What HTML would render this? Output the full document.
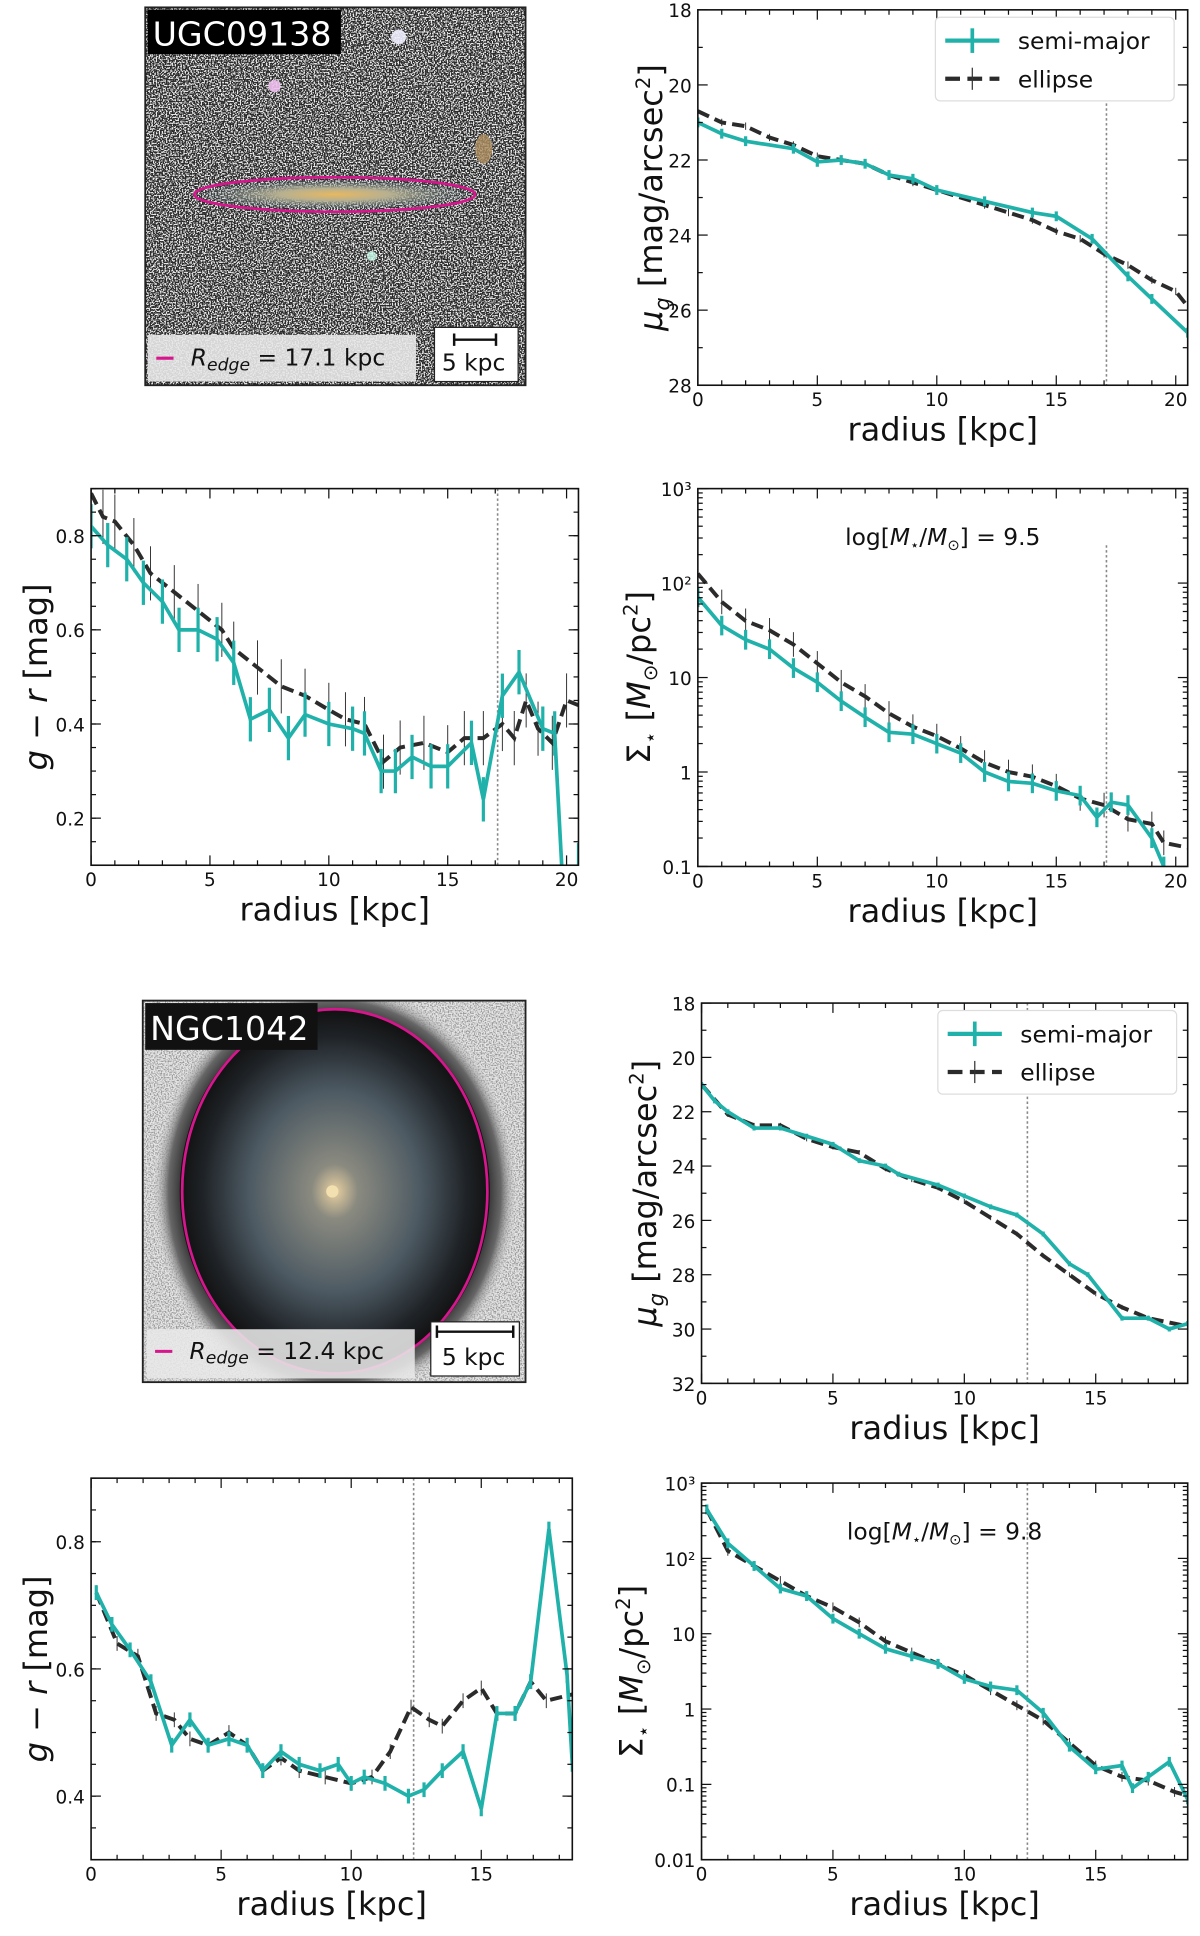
<!DOCTYPE html>
<html><head><meta charset="utf-8"><style>
html,body{margin:0;padding:0;background:#fff}
svg{display:block}
text{font-family:"DejaVu Sans","Liberation Sans",sans-serif}
</style></head><body>
<svg id="fig" xmlns="http://www.w3.org/2000/svg" width="1200" height="1936" viewBox="0 0 975 1573">
<defs>
<filter id="noise1" x="0" y="0" width="100%" height="100%">
<feTurbulence type="fractalNoise" baseFrequency="0.9" numOctaves="1" seed="3"/>
<feColorMatrix type="matrix" values="0 0 0 0 0  0 0 0 0 0  0 0 0 0 0  0 0 0 -4 2.3"/>
</filter>
<filter id="noiseW" x="0" y="0" width="100%" height="100%">
<feTurbulence type="fractalNoise" baseFrequency="0.85" numOctaves="1" seed="7"/>
<feColorMatrix type="matrix" values="0 0 0 0 1  0 0 0 0 1  0 0 0 0 1  0 0 0 9 -4.3"/>
</filter>
<clipPath id="img2clip"><rect x="116" y="813" width="311" height="310"/></clipPath>
<radialGradient id="gal1" cx="50%" cy="50%" r="50%">
<stop offset="0" stop-color="#e8b860"/><stop offset="0.4" stop-color="#b7b090"/><stop offset="1" stop-color="#7d95a0" stop-opacity="0"/>
</radialGradient>
<radialGradient id="gal2" cx="50%" cy="50%" r="50%">
<stop offset="0" stop-color="#e8d0a0"/><stop offset="0.15" stop-color="#8a8a80"/><stop offset="0.55" stop-color="#4d5a63"/><stop offset="0.85" stop-color="#1f2327"/><stop offset="1" stop-color="#111"/>
</radialGradient>
<radialGradient id="halo2" cx="50%" cy="50%" r="50%">
<stop offset="0.78" stop-color="#111"/><stop offset="0.9" stop-color="#666"/><stop offset="1" stop-color="#e8e8e8" stop-opacity="0"/>
</radialGradient>
</defs>

<!-- Image panel 1 -->
<g>
<rect x="118" y="6" width="309" height="307" fill="#2a2a2a"/>
<rect x="118" y="6" width="309" height="307" fill="#fff" filter="url(#noiseW)" opacity="0.9"/>
<ellipse cx="272" cy="158" rx="112" ry="12" fill="url(#gal1)"/>
<circle cx="324" cy="30" r="6" fill="#eef" opacity="0.9"/>
<circle cx="223" cy="70" r="5" fill="#f0c0f0" opacity="0.9"/>
<ellipse cx="393" cy="121" rx="7" ry="12" fill="#b09060" opacity="0.8"/>
<circle cx="302" cy="208" r="4" fill="#cfe" opacity="0.8"/>
<ellipse cx="272" cy="158" rx="114" ry="14" fill="none" stroke="#d6168c" stroke-width="2.2"/>
<rect x="118" y="6" width="309" height="307" fill="none" stroke="#222" stroke-width="1.5"/>
<rect x="120" y="8" width="157" height="36" fill="#000"/>
<text x="124" y="37" font-size="27" fill="#fff">UGC09138</text>
<rect x="120" y="272" width="218" height="38" fill="#e8e8e8" opacity="0.9"/>
<line x1="127" y1="291" x2="141" y2="291" stroke="#d6168c" stroke-width="2.5"/>
<text x="155" y="297" font-size="19" fill="#111"><tspan font-style="italic">R</tspan><tspan font-style="italic" font-size="14" dy="4">edge</tspan><tspan dy="-4"> = 17.1 kpc</tspan></text>
<rect x="353" y="266" width="68" height="44" fill="#fff" stroke="#222" stroke-width="1"/>
<path d="M369 271V281M403 271V281M369 276H403" stroke="#111" stroke-width="2" fill="none"/>
<text x="359" y="301" font-size="19" fill="#111">5 kpc</text>
</g>

<!-- Image panel 2 -->
<g>
<g clip-path="url(#img2clip)">
<rect x="116" y="813" width="311" height="310" fill="#e6e6e6"/>
<rect x="116" y="813" width="311" height="310" fill="#000" filter="url(#noise1)" opacity="0.35"/>
<ellipse cx="272" cy="968" rx="150" ry="172" fill="url(#halo2)"/>
<ellipse cx="272" cy="968" rx="126" ry="148" fill="url(#gal2)"/>
<circle cx="270" cy="968" r="5" fill="#f3e0b0"/>
</g>
<ellipse cx="272" cy="968" rx="124" ry="148" fill="none" stroke="#d6168c" stroke-width="2.2"/>
<rect x="116" y="813" width="311" height="310" fill="none" stroke="#222" stroke-width="1.5"/>
<rect x="118" y="815" width="140" height="38" fill="#111"/>
<text x="122" y="845" font-size="27" fill="#fff">NGC1042</text>
<rect x="119" y="1080" width="218" height="40" fill="#e8e8e8" opacity="0.88"/>
<line x1="126" y1="1098" x2="140" y2="1098" stroke="#d6168c" stroke-width="2.5"/>
<text x="154" y="1104" font-size="19" fill="#111"><tspan font-style="italic">R</tspan><tspan font-style="italic" font-size="14" dy="4">edge</tspan><tspan dy="-4"> = 12.4 kpc</tspan></text>
<rect x="350" y="1074" width="72" height="44" fill="#fff" stroke="#222" stroke-width="1"/>
<path d="M355 1077V1087M417 1077V1087M355 1082H417" stroke="#111" stroke-width="2" fill="none"/>
<text x="359" y="1109" font-size="19" fill="#111">5 kpc</text>
</g>
<g id="plots"></g>
</svg>
<script>
// ---- data ----
const p2SemiR=[0,1,2,4,5,6,7,8,9,10,12,14,15,16.5,18,19,20.5];
const p2SemiV=[21.0,21.3,21.5,21.7,22.05,22.0,22.1,22.4,22.5,22.8,23.1,23.4,23.5,24.1,25.1,25.7,26.6];
const p2EllR=[0,1,2,3,4,5,6,7,8,9,10,12,13,14,15,16,17,18,19,20,20.5];
const p2EllV=[20.7,21.0,21.1,21.4,21.6,21.9,22.0,22.1,22.4,22.6,22.8,23.2,23.4,23.6,23.9,24.1,24.5,24.8,25.2,25.5,25.9];

const p3SemiR=[0,0.7,1.5,2.2,3,3.7,4.5,5.3,6,6.7,7.5,8.3,9,10,11,11.5,12.2,12.8,13.5,14.3,15,16,16.5,17.3,18,19,19.5,19.9,20.5];
const p3SemiV=[0.82,0.78,0.75,0.70,0.66,0.60,0.60,0.58,0.53,0.41,0.43,0.37,0.42,0.40,0.39,0.38,0.30,0.30,0.33,0.31,0.31,0.36,0.24,0.46,0.51,0.39,0.38,0.0,0.1];
const p3EllR=[0,0.5,1,1.8,2.5,3.5,4.5,5.5,6,7,8,9,10,10.7,11.5,12.3,13,14,15,15.7,16.5,17.3,17.8,18.3,18.8,19.4,20,20.5];
const p3EllV=[0.89,0.84,0.83,0.78,0.72,0.68,0.64,0.60,0.56,0.52,0.48,0.46,0.43,0.41,0.40,0.32,0.35,0.36,0.34,0.37,0.37,0.40,0.37,0.45,0.39,0.36,0.45,0.44];

const p4SemiR=[0,1,2,3,4,5,6,7,8,9,10,11,12,13,14,15,16,16.7,17.3,18,19,19.5];
const p4SemiLog=[1.85,1.55,1.4,1.3,1.1,0.95,0.75,0.58,0.42,0.40,0.3,0.2,0.0,-0.1,-0.12,-0.2,-0.25,-0.48,-0.32,-0.35,-0.7,-1.0];
const p4EllR=[0,1,2,3,4,5,6,7,8,9,10,11,12,13,14,15,16,17,18,19,19.5,20.5];
const p4EllLog=[2.1,1.8,1.6,1.5,1.35,1.15,0.95,0.8,0.62,0.48,0.38,0.25,0.1,0.0,-0.05,-0.15,-0.28,-0.35,-0.5,-0.55,-0.75,-0.8];

const p6SemiR=[0,0.5,1,2,3,4,5,6,7,7.5,9,10,11,12,13,14,14.7,16,17,17.8,18.5];
const p6SemiV=[21.0,21.6,22.0,22.6,22.6,22.9,23.2,23.8,24.0,24.3,24.7,25.1,25.5,25.8,26.5,27.6,28.0,29.6,29.6,30.0,29.8];
const p6EllR=[0,1,2,3,4,5,6,7,8,9,10,11,12,13,14,15,16,17,18.5];
const p6EllV=[21.0,22.1,22.5,22.5,23.0,23.3,23.5,24.1,24.5,24.8,25.3,25.9,26.5,27.3,28.0,28.7,29.2,29.6,29.9];

const p7SemiR=[0.2,0.8,1.5,2.3,3.1,3.8,4.5,5.3,6,6.6,7.3,8,8.8,9.5,10,10.5,11.3,12.2,12.8,13.5,14.3,15,15.6,16.3,16.9,17.6,18.3,18.5];
const p7SemiV=[0.72,0.67,0.63,0.58,0.48,0.52,0.48,0.49,0.48,0.44,0.47,0.45,0.44,0.45,0.42,0.43,0.42,0.40,0.41,0.44,0.47,0.38,0.53,0.53,0.58,0.82,0.59,0.45];
const p7EllR=[0.2,1,1.8,2.5,3.2,3.8,4.5,5.3,6,6.6,7.3,8,9,10,10.8,11.5,12.3,13,13.5,14.3,15,15.6,16.3,16.9,17.5,18.5];
const p7EllV=[0.72,0.64,0.62,0.53,0.52,0.49,0.48,0.50,0.48,0.44,0.46,0.44,0.43,0.42,0.43,0.47,0.54,0.52,0.51,0.55,0.57,0.53,0.53,0.58,0.55,0.56];

const p8SemiR=[0.2,1,2,3,4,5,6,7,8,9,10,11,12,13,14,15,16,16.4,17,17.8,18.5];
const p8SemiLog=[2.65,2.2,1.9,1.6,1.5,1.2,1.0,0.8,0.7,0.6,0.4,0.3,0.25,-0.05,-0.5,-0.8,-0.75,-1.05,-0.9,-0.7,-1.2];
const p8EllR=[0.2,1,2,3,4,5,6,7,8,9,10,11,12,13,14,15,16,17,18,18.5];
const p8EllLog=[2.65,2.1,1.9,1.7,1.5,1.35,1.15,0.9,0.75,0.6,0.45,0.25,0.05,-0.15,-0.45,-0.75,-0.9,-0.95,-1.1,-1.15];

const xTicks1=[0,5,10,15,20];
const xTicks2=[0,5,10,15];
const muTicks1=[18,20,22,24,26,28];
const muTicks2=[18,20,22,24,26,28,30,32];
const grTicks1=[0.2,0.4,0.6,0.8];
const grTicks2=[0.4,0.6,0.8];
const sigTickLog1=[-1,0,1,2,3];
const sigTickLog2=[-2,-1,0,1,2,3];
const sigTickLabels={"-2":"0.01","-1":"0.1","0":"1","1":"10","2":"10²","3":"10³"};
const redge1=17.1, redge2=12.4;
const logMass1="9.5", logMass2="9.8";

// ---- drawing ----
const NS="http://www.w3.org/2000/svg";
const root=document.getElementById('plots');
const TEAL="#20b2aa", DARK="#2b2b2b";
function mk(tag,attrs,parent){const e=document.createElementNS(NS,tag);for(const k in attrs)e.setAttribute(k,attrs[k]);(parent||root).appendChild(e);return e;}

function panel(o){
  const g=mk('g',{});
  
  
  const X=v=>o.x0+(v-o.xmin)/(o.xmax-o.xmin)*(o.x1-o.x0);
  const Y=v=>o.inv? o.y0+(v-o.ymin)/(o.ymax-o.ymin)*(o.y1-o.y0) : o.y1-(v-o.ymin)/(o.ymax-o.ymin)*(o.y1-o.y0);
  const clip='c'+o.name;
  const cp=mk('clipPath',{id:clip},g);mk('rect',{x:o.x0,y:o.y0,width:o.x1-o.x0,height:o.y1-o.y0},cp);
  const pg=mk('g',{'clip-path':`url(#${clip})`},g);
  const rl=mk('line',{x1:X(o.redge),x2:X(o.redge),y1:o.redgeTop||o.y0,y2:o.y1,stroke:'#888','stroke-width':1.3,'stroke-dasharray':'2,2'},pg);
  
  
  const pe=o.ell[0].map((r,i)=>[X(r),Y(o.ell[1][i])]);
  if(o.ellErr){pe.forEach(p=>{mk('line',{x1:p[0],x2:p[0],y1:p[1]-o.ellErr,y2:p[1]+o.ellErr,stroke:'#333','stroke-width':0.8},pg);});}
  const el=mk('polyline',{points:pe.map(p=>p.join(',')).join(' '),fill:'none',stroke:DARK,'stroke-width':3.2,'stroke-dasharray':'10,5'},pg);
  
  
  const ps=o.semi[0].map((r,i)=>[X(r),Y(o.semi[1][i])]);
  if(o.semiErr){ps.forEach(p=>{mk('line',{x1:p[0],x2:p[0],y1:p[1]-o.semiErr,y2:p[1]+o.semiErr,stroke:TEAL,'stroke-width':2.6},pg);});}
  const sl=mk('polyline',{points:ps.map(p=>p.join(',')).join(' '),fill:'none',stroke:TEAL,'stroke-width':3},pg);
  
  
  mk('rect',{x:o.x0,y:o.y0,width:o.x1-o.x0,height:o.y1-o.y0,fill:'none',stroke:'#111','stroke-width':1.3},g);
  for(let v=o.xmin;v<=o.xmax+1e-6;v+=1){const x=X(v);const major=Math.abs(v%5)<1e-6;const L=major?8:4;
    mk('line',{x1:x,x2:x,y1:o.y1,y2:o.y1-L,stroke:'#111','stroke-width':1},g);mk('line',{x1:x,x2:x,y1:o.y0,y2:o.y0+L,stroke:'#111','stroke-width':1},g);}
  o.xticks.forEach(v=>{const t=mk('text',{x:X(v),y:o.y1+17,'font-size':15,'text-anchor':'middle',fill:'#111'},g);t.textContent=v;
    
    });
  o.yticks.forEach(v=>{const y=Y(v);
    mk('line',{x1:o.x0,x2:o.x0+8,y1:y,y2:y,stroke:'#111','stroke-width':1},g);mk('line',{x1:o.x1,x2:o.x1-8,y1:y,y2:y,stroke:'#111','stroke-width':1},g);
    const t=mk('text',{x:o.x0-5,y:y+6,'font-size':15,'text-anchor':'end',fill:'#111'},g);t.textContent=o.fmt(v);
    
    });
  (o.minorY||[]).forEach(v=>{const y=Y(v);if(y<o.y0||y>o.y1)return;
    mk('line',{x1:o.x0,x2:o.x0+4,y1:y,y2:y,stroke:'#111','stroke-width':1},g);mk('line',{x1:o.x1,x2:o.x1-4,y1:y,y2:y,stroke:'#111','stroke-width':1},g);});
  const xl=mk('text',{x:(o.x0+o.x1)/2,y:o.y1+45,'font-size':26,'text-anchor':'middle',fill:'#111'},g);xl.textContent='radius [kpc]';
  
  
  const yl=mk('text',{x:0,y:0,'font-size':26,'text-anchor':'middle',fill:'#111',transform:`translate(${o.ylx},${(o.y0+o.y1)/2}) rotate(-90)`},g);
  yl.innerHTML=o.ylabel;
  
  
  if(o.mass){const t=mk('text',{x:(o.x0+o.x1)/2,y:o.y0+46,'font-size':19,'text-anchor':'middle',fill:'#111'},g);
    t.innerHTML=`log[<tspan font-style="italic">M</tspan><tspan font-size="12" dy="4">⋆</tspan><tspan dy="-4">/</tspan><tspan font-style="italic">M</tspan><tspan font-size="12" dy="4">⊙</tspan><tspan dy="-4">] = ${o.mass}</tspan>`;
    
    }
  if(o.legend){const lx=o.legend[0],ly=o.legend[1];const lg=mk('g',{},g);
    
    
    mk('rect',{x:lx,y:ly,width:194,height:68,rx:4,fill:'#fff',stroke:'#ddd'},lg);
    mk('line',{x1:lx+8,x2:lx+52,y1:ly+19,y2:ly+19,stroke:TEAL,'stroke-width':3.5},lg);
    mk('line',{x1:lx+30,x2:lx+30,y1:ly+9,y2:ly+29,stroke:TEAL,'stroke-width':3},lg);
    mk('line',{x1:lx+8,x2:lx+52,y1:ly+50,y2:ly+50,stroke:DARK,'stroke-width':3.5,'stroke-dasharray':'12,6'},lg);
    mk('line',{x1:lx+30,x2:lx+30,y1:ly+41,y2:ly+59,stroke:'#333','stroke-width':1},lg);
    const a=mk('text',{x:lx+67,y:ly+26,'font-size':19,fill:'#111'},lg);a.textContent='semi-major';
    const b=mk('text',{x:lx+67,y:ly+57,'font-size':19,fill:'#111'},lg);b.textContent='ellipse';}
}
const muLabel='<tspan font-style="italic">μ</tspan><tspan font-style="italic" font-size="17" dy="6">g</tspan><tspan dy="-6"> [mag/arcsec</tspan><tspan font-size="16" dy="-10">2</tspan><tspan dy="10">]</tspan>';
const grLabel='<tspan font-style="italic">g</tspan> − <tspan font-style="italic">r</tspan> [mag]';
const sigLabel='Σ<tspan font-size="16" dy="6">⋆</tspan><tspan dy="-6"> [</tspan><tspan font-style="italic">M</tspan><tspan font-size="16" dy="6">⊙</tspan><tspan dy="-6">/pc</tspan><tspan font-size="16" dy="-10">2</tspan><tspan dy="10">]</tspan>';
const minorLog=[];for(let d=-3;d<3;d++)for(let k=2;k<10;k++)minorLog.push(d+Math.log10(k));
const grMinor=[];for(let v=0.1;v<0.95;v+=0.05)grMinor.push(+v.toFixed(2));
const muMinor1=[19,21,23,25,27], muMinor2=[19,21,23,25,27,29,31];

panel({name:'mu-panel-1',x0:567,x1:965,y0:8,y1:313,xmin:0,xmax:20.5,ymin:18,ymax:28,inv:true,xticks:xTicks1,yticks:muTicks1,minorY:muMinor1,fmt:v=>v,
  semi:[p2SemiR,p2SemiV],ell:[p2EllR,p2EllV],semiErr:4,ellErr:3,redge:redge1,redgeTop:80,ylx:538,ylabel:muLabel,legend:[760,14]});
panel({name:'gr-panel-1',x0:74,x1:470,y0:397,y1:703,xmin:0,xmax:20.5,ymin:0.1,ymax:0.9,xticks:xTicks1,yticks:grTicks1,minorY:grMinor,fmt:v=>v.toFixed(1),
  semi:[p3SemiR,p3SemiV],ell:[p3EllR,p3EllV],semiErr:18,ellErr:22,redge:redge1,ylx:38,ylabel:grLabel});
panel({name:'sigma-panel-1',x0:567,x1:965,y0:397,y1:704,xmin:0,xmax:20.5,ymin:-1,ymax:3,xticks:xTicks1,yticks:sigTickLog1,minorY:minorLog,fmt:v=>sigTickLabels[v],
  semi:[p4SemiR,p4SemiLog],ell:[p4EllR,p4EllLog],semiErr:8,ellErr:10,redge:redge1,redgeTop:443,ylx:528,ylabel:sigLabel,mass:logMass1});
panel({name:'mu-panel-2',x0:570,x1:965,y0:815,y1:1124,xmin:0,xmax:18.5,ymin:18,ymax:32,inv:true,xticks:xTicks2,yticks:muTicks2,minorY:muMinor2,fmt:v=>v,
  semi:[p6SemiR,p6SemiV],ell:[p6EllR,p6EllV],semiErr:2,ellErr:2,redge:redge2,ylx:533,ylabel:muLabel,legend:[762,821]});
panel({name:'gr-panel-2',x0:74,x1:465,y0:1201,y1:1511,xmin:0,xmax:18.5,ymin:0.3,ymax:0.9,xticks:xTicks2,yticks:grTicks2,minorY:grMinor,fmt:v=>v.toFixed(1),
  semi:[p7SemiR,p7SemiV],ell:[p7EllR,p7EllV],semiErr:6,ellErr:6,redge:redge2,ylx:38,ylabel:grLabel});
panel({name:'sigma-panel-2',x0:570,x1:965,y0:1205,y1:1511,xmin:0,xmax:18.5,ymin:-2,ymax:3,xticks:xTicks2,yticks:sigTickLog2,minorY:minorLog,fmt:v=>sigTickLabels[v],
  semi:[p8SemiR,p8SemiLog],ell:[p8EllR,p8EllLog],semiErr:4,ellErr:4,redge:redge2,ylx:522,ylabel:sigLabel,mass:logMass2});
</script>
</body></html>
